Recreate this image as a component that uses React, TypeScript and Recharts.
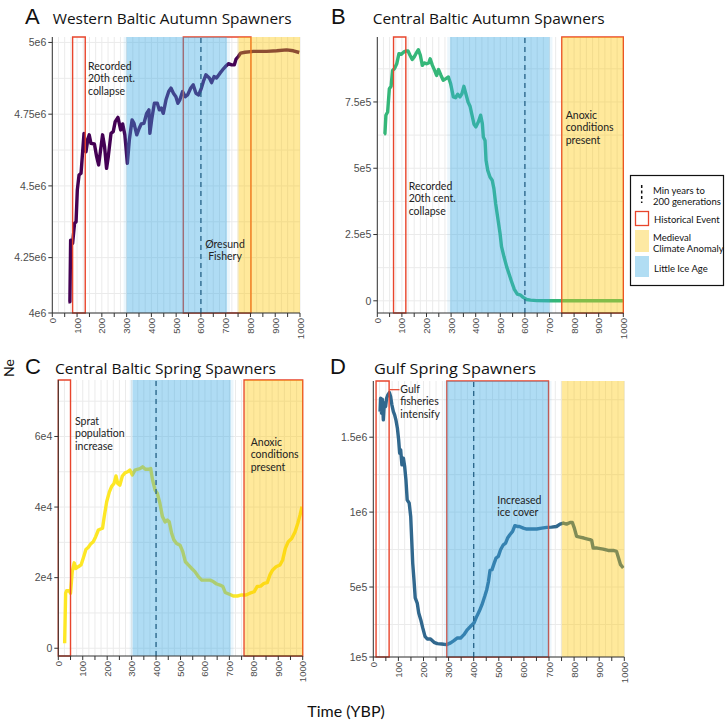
import React from "react";
import {
  LineChart,
  Line,
  XAxis,
  YAxis,
  CartesianGrid,
  ReferenceArea,
  ReferenceLine,
} from "recharts";

// [year BP, Ne in thousands]
const westernAutumn = [
  [65, 4096], [71, 4096], [74, 4311], [82, 4300], [90, 4370], [96, 4375], [101, 4486], [108, 4538],
  [116, 4544], [121, 4602], [128, 4683], [136, 4619], [143, 4660], [149, 4678], [156, 4648], [170, 4646],
  [179, 4602], [187, 4573], [195, 4625], [203, 4678], [211, 4637], [219, 4561], [226, 4602], [237, 4683],
  [246, 4689], [254, 4724], [265, 4739], [276, 4695], [284, 4716], [293, 4678], [303, 4579], [311, 4660],
  [322, 4730], [330, 4718], [341, 4678], [351, 4701], [359, 4716], [370, 4718], [381, 4753], [390, 4765],
  [394, 4683], [401, 4730], [412, 4788], [424, 4788], [432, 4765], [440, 4771], [448, 4753], [459, 4800],
  [470, 4829], [479, 4841], [489, 4823], [499, 4811], [507, 4788], [515, 4800], [526, 4829], [537, 4811],
  [546, 4817], [559, 4841], [569, 4852], [580, 4823], [591, 4817], [602, 4841], [610, 4864], [620, 4887],
  [634, 4876], [643, 4860], [653, 4881], [663, 4876], [677, 4893], [688, 4905], [699, 4916], [711, 4926],
  [724, 4922], [735, 4922], [742, 4942], [751, 4951], [760, 4963], [778, 4966], [812, 4969], [865, 4969],
  [906, 4971], [946, 4974], [973, 4971], [997, 4965],
];

const centralAutumn = [
  [27, 628], [31, 630], [35, 700], [42, 712], [49, 800], [56, 809], [62, 869], [70, 876], [79, 894],
  [88, 932], [98, 930], [107, 938], [116, 942], [125, 942], [133, 926], [142, 910], [150, 920], [157, 932],
  [167, 947], [175, 926], [183, 888], [191, 897], [201, 894], [209, 897], [215, 913], [224, 888], [233, 869],
  [241, 850], [249, 872], [259, 850], [268, 832], [279, 838], [289, 844], [298, 819], [309, 769], [318, 766],
  [327, 779], [336, 769], [344, 781], [352, 809], [360, 781], [369, 750], [377, 734], [385, 700], [393, 666],
  [401, 656], [411, 675], [420, 700], [427, 668], [431, 618], [438, 605], [442, 530], [449, 492], [458, 467],
  [467, 455], [474, 423], [481, 367], [489, 317], [499, 254], [505, 204], [515, 166], [526, 128], [535, 103],
  [546, 72], [557, 43], [569, 25], [583, 21], [593, 13], [607, 5], [623, 2.5], [648, 0.5], [700, 0.3],
  [800, 0.2], [900, 0.2], [1000, 0.2],
];

const centralSpring = [
  [26, 1.4], [30, 15.6], [34, 16.3], [44, 16.3], [50, 15.6], [57, 21.7], [65, 24.2], [72, 22.6], [82, 23.1],
  [93, 23.6], [102, 25.5], [113, 28.0], [123, 28.6], [132, 29.5], [143, 30.2], [153, 31.6], [164, 33.5],
  [171, 33.7], [181, 34.0], [188, 37.3], [198, 41.5], [209, 44.3], [218, 45.8], [228, 46.7], [236, 48.8],
  [243, 46.7], [252, 46.2], [262, 48.8], [273, 49.7], [284, 50.0], [293, 50.5], [303, 49.1], [314, 50.5],
  [323, 50.7], [334, 50.9], [345, 51.4], [356, 50.7], [368, 50.7], [378, 50.9], [386, 47.6], [396, 44.8],
  [405, 43.9], [416, 41.0], [426, 37.3], [437, 35.8], [446, 36.3], [454, 35.8], [464, 32.5], [473, 30.7],
  [484, 29.7], [498, 29.2], [509, 27.4], [520, 24.5], [532, 23.6], [546, 22.6], [559, 21.7], [573, 20.3],
  [587, 19.3], [600, 19.3], [621, 19.3], [634, 18.9], [648, 18.2], [662, 17.9], [673, 17.5], [683, 15.8],
  [700, 15.3], [716, 14.8], [733, 14.8], [750, 15.1], [768, 15.1], [784, 15.6], [801, 16.0], [814, 17.5],
  [828, 17.6], [842, 18.4], [855, 18.6], [866, 20.8], [877, 22.2], [891, 23.1], [907, 23.6], [918, 25.0],
  [929, 28.3], [941, 30.2], [955, 31.1], [969, 33.0], [980, 35.4], [989, 37.7], [997, 40.1],
];

const gulfSpring = [
  [27, 1671], [29, 1760], [33, 1660], [36, 1753], [40, 1616], [44, 1727], [49, 1704], [53, 1760],
  [58, 1782], [64, 1798], [69, 1771], [74, 1716], [80, 1671], [85, 1649], [90, 1616], [96, 1560],
  [101, 1482], [105, 1393], [109, 1416], [114, 1316], [120, 1360], [125, 1304], [130, 1216], [135, 1082],
  [143, 1060], [149, 971], [153, 816], [157, 660], [162, 549], [167, 427], [175, 393], [181, 327],
  [189, 282], [197, 227], [206, 171], [215, 153], [228, 153], [242, 131], [255, 122], [272, 120],
  [292, 116], [308, 127], [321, 142], [335, 160], [348, 160], [361, 182], [375, 216], [388, 238],
  [401, 260], [412, 304], [422, 338], [433, 382], [444, 438], [452, 482], [459, 538], [465, 611],
  [473, 616], [481, 656], [489, 693], [498, 704], [507, 749], [518, 782], [527, 793], [535, 827],
  [544, 849], [555, 871], [564, 909], [574, 904], [582, 904], [598, 893], [611, 887], [631, 887],
  [651, 887], [671, 893], [691, 898], [710, 900], [730, 904], [744, 920], [757, 927], [770, 920],
  [784, 931], [793, 931], [801, 893], [810, 838], [823, 833], [839, 827], [854, 820], [863, 816],
  [870, 811], [876, 760], [892, 760], [916, 753], [936, 744], [956, 744], [969, 738], [977, 693],
  [985, 649], [996, 627],
];

const xTicks = Array.from({ length: 21 }, (_, i) => i * 50);
const gridYears = Array.from({ length: 41 }, (_, i) => i * 25);

const BLUE = "#3caae6";
const YELLOW = "#ffc800";
const RED = "#e8452c";

const panels = [
  {
    key: "A",
    series: westernAutumn,
    color: "#440154",
    left: 0, top: 0, width: 310, right: 10, axisWidth: 52.3,
    domain: [4057000, 5019000],
    yTicks: [4057000, 4250000, 4500000, 4750000, 5000000],
    yLabels: ["4e6", "4.25e6", "4.5e6", "4.75e6", "5e6"],
    minorY: [4125000, 4375000, 4625000, 4875000],
    boxes: [[82, 133], [529, 802]],
    blue: [300, 705],
    yellow: [752, 1000],
    dash: 600,
  },
  {
    key: "B",
    series: centralAutumn,
    color: "#35b779",
    left: 330, top: 0, width: 300, right: 6.7, axisWidth: 47.3,
    domain: [-46000, 995000],
    yTicks: [0, 250000, 500000, 750000],
    yLabels: ["0", "2.5e5", "5e5", "7.5e5"],
    minorY: [125000, 375000, 625000, 875000],
    boxes: [[66, 116], [750, 1000]],
    blue: [296, 700],
    yellow: [752, 1000],
    dash: 600,
  },
  {
    key: "C",
    series: centralSpring,
    color: "#fde725",
    left: 0, top: 343, width: 310, right: 7.3, axisWidth: 58.3,
    domain: [-2200, 76000],
    yTicks: [0, 20000, 40000, 60000],
    yLabels: ["0", "2e4", "4e4", "6e4"],
    minorY: [10000, 30000, 50000, 70000],
    boxes: [[0, 50], [760, 1000]],
    blue: [304, 705],
    yellow: [764, 1000],
    dash: 400,
  },
  {
    key: "D",
    series: gulfSpring,
    color: "#31688e",
    left: 330, top: 344, width: 300, right: 5.7, axisWidth: 43.3,
    domain: [33000, 1875000],
    yTicks: [33000, 500000, 1000000, 1500000],
    yLabels: ["1e5", "5e5", "1e6", "1.5e6"],
    minorY: [250000, 750000, 1250000, 1750000],
    boxes: [[11, 63], [293, 698]],
    blue: [293, 698],
    yellow: [752, 1000],
    dash: 400,
  },
];

const XTick = (props: any) => {
  const { x, y, payload } = props;
  if (payload.value % 100 !== 0) return <g />;
  return (
    <text
      x={x}
      y={y}
      transform={`rotate(-90 ${x} ${y})`}
      textAnchor="end"
      dominantBaseline="central"
      fontSize={9.5}
      fontFamily="Liberation Sans"
      fill="#4d4d4d"
    >
      {payload.value}
    </text>
  );
};

function Panel({ p }: { p: any }) {
  const data = p.series.map(([year, ne]: number[]) => ({ year, ne: ne * 1000 }));
  const fringe = 12;
  return (
    <div style={{ position: "absolute", left: p.left, top: p.top }}>
      <LineChart
        width={p.width}
        height={360}
        data={data}
        margin={{ top: 37, right: p.right, bottom: 7, left: 0 }}
      >
        <CartesianGrid
          stroke="#ebebeb"
          horizontalValues={[...p.yTicks, ...p.minorY]}
          verticalValues={gridYears}
        />
        <XAxis
          dataKey="year"
          type="number"
          domain={[0, 1000]}
          ticks={xTicks}
          interval={0}
          height={40}
          tickSize={4}
          tickMargin={1}
          stroke="#333"
          tick={XTick}
          allowDataOverflow
        />
        <XAxis
          xAxisId="top"
          orientation="top"
          type="number"
          domain={[0, 1000]}
          height={0}
          tick={false}
          tickLine={false}
          stroke="#777"
        />
        <YAxis
          type="number"
          domain={p.domain}
          ticks={p.yTicks}
          interval={0}
          width={p.axisWidth}
          tickSize={4}
          tickMargin={2}
          stroke="#333"
          tick={{ fill: "#4d4d4d", fontSize: 10.5, fontFamily: "Liberation Sans" }}
          tickFormatter={(v: number) => p.yLabels[p.yTicks.indexOf(v)]}
          allowDataOverflow
        />
        <YAxis
          yAxisId="right"
          orientation="right"
          type="number"
          domain={p.domain}
          width={0}
          tick={false}
          tickLine={false}
          stroke="#777"
        />
        <Line
          dataKey="ne"
          type="linear"
          stroke={p.color}
          strokeWidth={3.4}
          strokeLinejoin="round"
          dot={false}
          isAnimationActive={false}
        />
        {p.boxes.map(([a, b]: number[], i: number) => (
          <ReferenceArea
            key={`box-${i}`}
            x1={a}
            x2={b}
            fill="none"
            stroke={RED}
            strokeWidth={1.4}
            zIndex={450}
          />
        ))}
        <ReferenceLine
          x={p.dash}
          stroke="#17324a"
          strokeWidth={1.3}
          strokeDasharray="5 4"
          zIndex={455}
        />
        <ReferenceArea
          x1={Math.max(0, p.blue[0] - fringe)}
          x2={Math.min(1000, p.blue[1] + fringe)}
          fill={BLUE}
          fillOpacity={0.1}
          stroke="none"
          zIndex={460}
        />
        <ReferenceArea
          x1={p.blue[0]}
          x2={p.blue[1]}
          fill={BLUE}
          fillOpacity={0.34}
          stroke="none"
          zIndex={461}
        />
        <ReferenceArea
          x1={Math.max(0, p.yellow[0] - 6)}
          x2={p.yellow[1]}
          fill={YELLOW}
          fillOpacity={0.1}
          stroke="none"
          zIndex={462}
        />
        <ReferenceArea
          x1={p.yellow[0]}
          x2={p.yellow[1]}
          fill={YELLOW}
          fillOpacity={0.32}
          stroke="none"
          zIndex={463}
        />
      </LineChart>
    </div>
  );
}

const titles = [
  { letter: "A", lx: 25, name: "Western Baltic Autumn Spawners", x: 52.7, y: 24, len: 239 },
  { letter: "B", lx: 331, name: "Central Baltic Autumn Spawners", x: 372.7, y: 24, len: 232 },
  { letter: "C", lx: 25, name: "Central Baltic Spring Spawners", x: 55, y: 373.5, len: 221 },
  { letter: "D", lx: 330, name: "Gulf Spring Spawners", x: 374, y: 373.5, len: 162 },
];

const notes = [
  { x: 88, y: 70, lines: ["Recorded", "20th cent.", "collapse"], anchor: "start" },
  { x: 225, y: 248, lines: ["Øresund", "Fishery"], anchor: "middle" },
  { x: 408.7, y: 190, lines: ["Recorded", "20th cent.", "collapse"], anchor: "start" },
  { x: 565.7, y: 119, lines: ["Anoxic", "conditions", "present"], anchor: "start" },
  { x: 75, y: 425, lines: ["Sprat", "population", "increase"], anchor: "start" },
  { x: 250.7, y: 446, lines: ["Anoxic", "conditions", "present"], anchor: "start" },
  { x: 400.3, y: 393, lines: ["Gulf", "fisheries", "intensify"], anchor: "start" },
  { x: 497.3, y: 504, lines: ["Increased", "ice cover"], anchor: "start" },
];

const legendItems = ["Min years to", "200 generations", "Historical Event", "Medieval", "Climate Anomaly", "Little Ice Age"];

export default function App() {
  const font = "Lato, 'Noto Sans', sans-serif";
  return (
    <div style={{ position: "absolute", left: 0, top: 0, width: 725, height: 721, background: "#fff" }}>
      {panels.map((p) => (
        <Panel key={p.key} p={p} />
      ))}
      <svg
        width={725}
        height={721}
        style={{ position: "absolute", left: 0, top: 0, pointerEvents: "none" }}
      >
        {titles.map((t) => (
          <g key={t.letter}>
            <text x={t.lx} y={t.y} fontSize={22} fontFamily="Liberation Sans" fill="#111">
              {t.letter}
            </text>
            <text
              x={t.x}
              y={t.y}
              fontSize={14.5}
              fontFamily="'Open Sans', sans-serif"
              fontWeight={400}
              fill="#111"
              textLength={t.len}
              lengthAdjust="spacingAndGlyphs"
            >
              {t.name}
            </text>
          </g>
        ))}
        {notes.map((n, i) => (
          <text key={i} fontSize={10.5} fontFamily={font} fill="#222" textAnchor={n.anchor as any}>
            {n.lines.map((l, j) => (
              <tspan key={j} x={n.x} y={n.y + j * 12.3}>
                {l}
              </tspan>
            ))}
          </text>
        ))}
        <line x1={389.5} y1={389.7} x2={399.5} y2={389.7} stroke={RED} strokeWidth={1.2} />
        <text
          x={0}
          y={0}
          transform="translate(14 368) rotate(-90)"
          textAnchor="middle"
          fontSize={14}
          fontFamily={font}
          fill="#111"
        >
          Ne
        </text>
        <text x={346} y={717} textAnchor="middle" fontSize={16} fontFamily={font} fill="#111">
          Time (YBP)
        </text>
        <g>
          <rect x={630.5} y={175.5} width={93} height={110} fill="#fff" stroke="#111" strokeWidth={1.2} />
          <line x1={641.7} y1={185} x2={641.7} y2={203} stroke="#111" strokeWidth={1.5} strokeDasharray="3 2.5" />
          <rect x={635.5} y={211.5} width={13} height={14} fill="#fff" stroke={RED} strokeWidth={1.3} />
          <rect x={635} y={230} width={14} height={22} fill="#fde9a3" />
          <rect x={635} y={256} width={14} height={21} fill="#b1ddf3" />
          <text fontSize={9.5} fontFamily={font} fill="#111">
            <tspan x={653} y={193.5}>{legendItems[0]}</tspan>
            <tspan x={653} y={204.5}>{legendItems[1]}</tspan>
            <tspan x={654} y={222.5}>{legendItems[2]}</tspan>
            <tspan x={653} y={240.5}>{legendItems[3]}</tspan>
            <tspan x={653} y={251.5}>{legendItems[4]}</tspan>
            <tspan x={654} y={271.5}>{legendItems[5]}</tspan>
          </text>
        </g>
      </svg>
    </div>
  );
}
